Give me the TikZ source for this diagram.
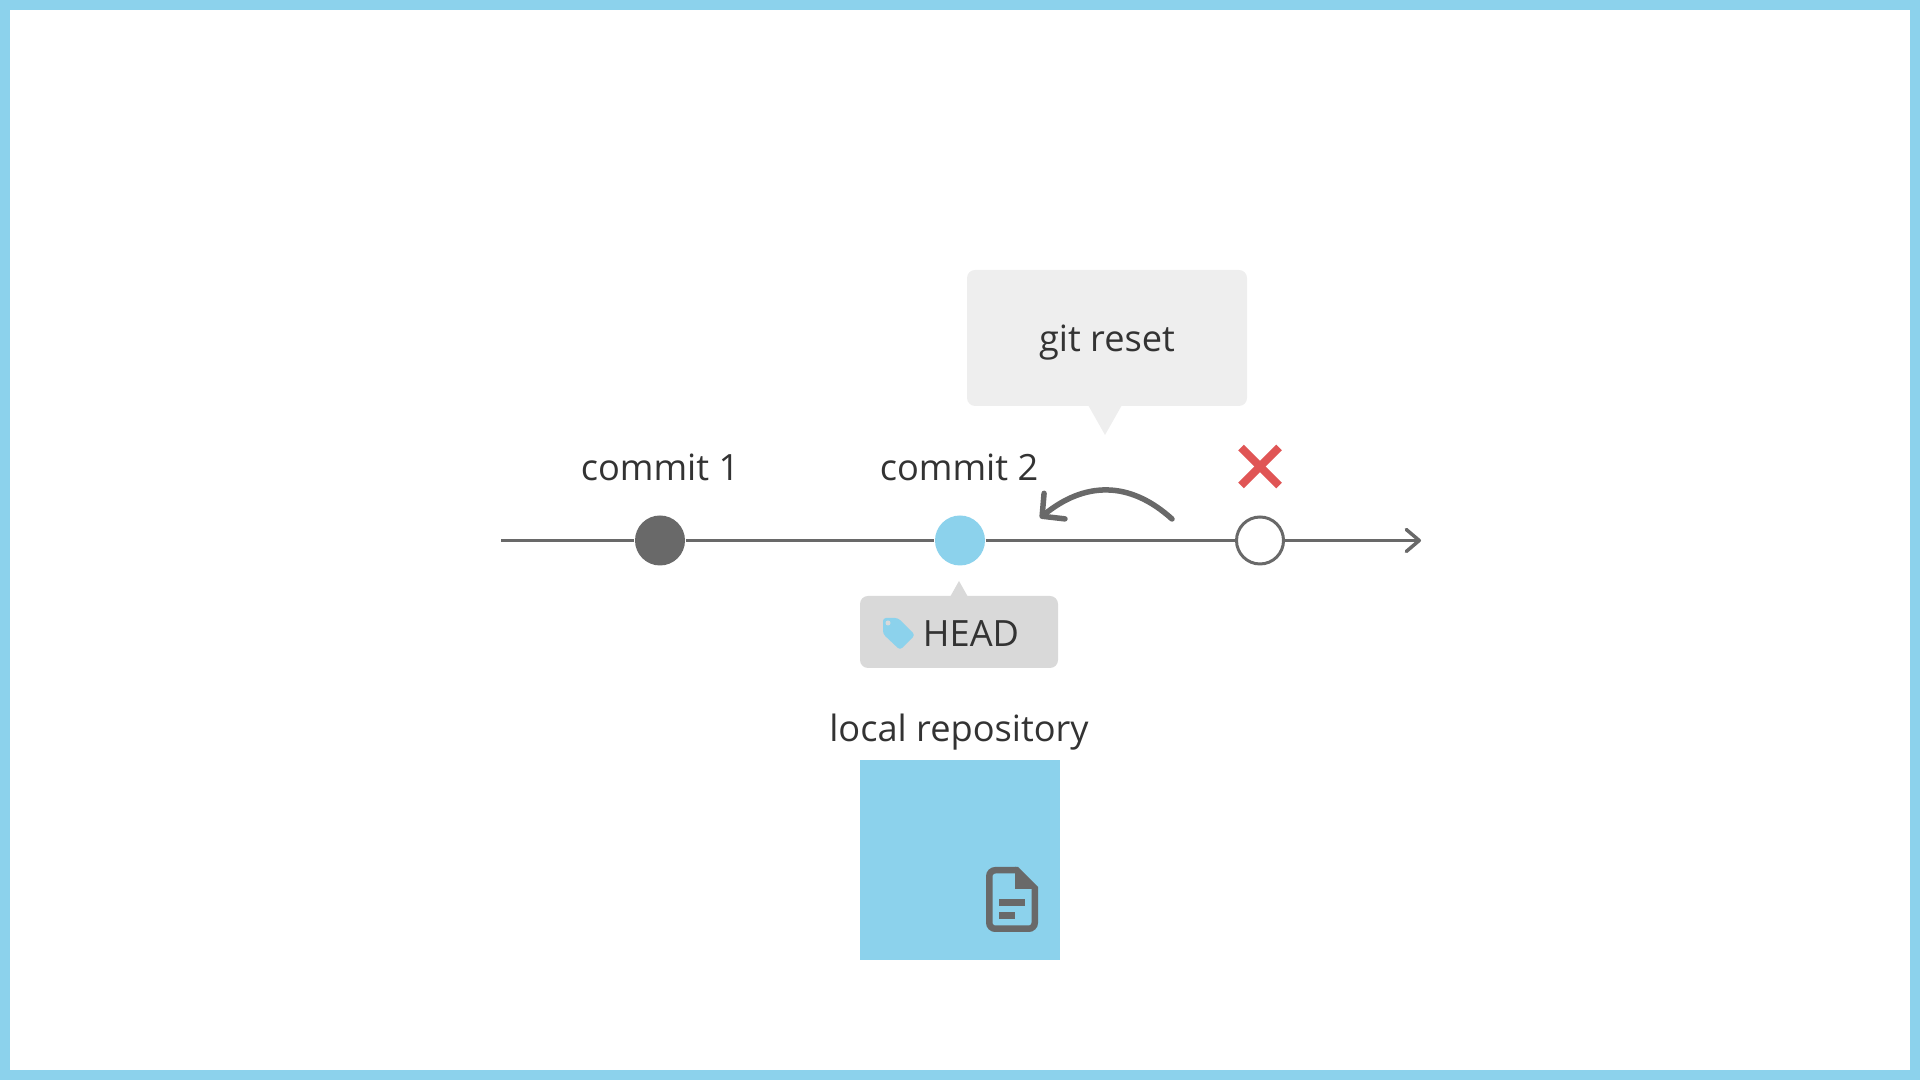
\documentclass[tikz,border=0pt]{standalone}
\usepackage{fontspec}
\setmainfont{Open Sans}
\usetikzlibrary{arrows.meta,positioning,calc}
\definecolor{skyblue}{HTML}{8CD2EC}
\definecolor{linegray}{HTML}{696969}
\definecolor{textgray}{HTML}{333333}
\definecolor{bubblegray}{HTML}{EEEEEE}
\definecolor{headgray}{HTML}{D9D9D9}
\definecolor{crossred}{HTML}{E05555}
\tikzset{
  cnode/.style={circle,inner sep=0pt,minimum size=5mm},
  enode/.style={circle,draw=linegray,line width=0.03cm,fill=white,inner sep=0pt,minimum size=4.7mm},
  lbl/.style={font=\fontsize{10.3pt}{12pt}\selectfont,text=textgray,inner sep=0pt},
  tl/.style={draw=linegray,line width=0.035cm},
  back/.style={-{Straight Barb[length=1.6mm,width=3.3mm,round]},draw=linegray,line width=0.055cm,line cap=round}
}
\begin{document}
\begin{tikzpicture}
\useasboundingbox (0,0) rectangle (19.2,10.8);
% frame
\draw[skyblue,line width=0.1cm] (0.05,0.05) rectangle (19.15,10.75);
% timeline
\coordinate (T0) at (5.01,5.395);
\coordinate (T1) at (14.21,5.395);
\node[cnode,fill=linegray] (C1) at (6.6,5.395) {};
\node[cnode,fill=skyblue] (C2) at (9.6,5.395) {};
\node[enode] (C3) at (12.6,5.395) {};
\draw[tl] (T0) -- (C1);
\draw[tl] (C1) -- (C2);
\draw[tl] (C2) -- (C3);
\draw[tl,-{Straight Barb[length=1.3mm,width=2.2mm,round]}] (C3) -- (T1);
\node[lbl] (L1) at (6.60,6.13) {commit 1};
\node[lbl] (L2) at (9.59,6.13) {commit 2};
% cross
\draw[crossred,line width=0.08cm] (12.41,6.325) -- (12.79,5.945);
\draw[crossred,line width=0.08cm] (12.41,5.945) -- (12.79,6.325);
% git reset bubble
\node[fill=bubblegray,rounded corners=0.08cm,minimum width=2.8cm,minimum height=1.36cm,inner sep=0pt] (GB) at (11.07,7.42) {};
\fill[bubblegray] (10.88,6.75) -- (11.22,6.75) -- (11.05,6.45) -- cycle;
\node[lbl] (GT) at (11.07,7.37) {git reset};
% reset arrow
\coordinate (A0) at (11.72,5.61);
\coordinate (A1) at (10.40,5.62);
\draw[back] (A0) .. controls (11.29,6.00) and (10.84,5.98) .. (A1);
% head label
\node[fill=headgray,rounded corners=0.08cm,minimum width=1.98cm,minimum height=0.72cm,inner sep=0pt] (HB) at (9.59,4.48) {};
\fill[headgray] (9.50,4.83) -- (9.68,4.83) -- (9.59,4.99) -- cycle;
\node[lbl] (HT) at (9.71,4.465) {HEAD};
\fill[skyblue,rounded corners=0.03cm] (8.83,4.62) -- (8.98,4.62) -- (9.15,4.45) -- (9.00,4.30) -- (8.83,4.46) -- cycle;
\fill[headgray] (8.88,4.57) circle (0.025);
% local repository
\node[lbl] (RT) at (9.59,3.48) {local repository};
\node[fill=skyblue,minimum size=2cm,inner sep=0pt] (RB) at (9.6,2.2) {};
% file icon
\draw[linegray,line width=0.065cm,rounded corners=0.06cm] (10.16,2.0975) -- (9.8925,2.0975) -- (9.8925,1.5125) -- (10.3475,1.5125) -- (10.3475,1.91);
\fill[linegray] (10.15,2.13) -- (10.18,2.13) -- (10.38,1.93) -- (10.38,1.91) -- (10.15,1.91) -- cycle;
\fill[linegray] (9.99,1.81) rectangle (10.25,1.74);
\fill[linegray] (9.99,1.68) rectangle (10.15,1.61);
\end{tikzpicture}
\end{document}
